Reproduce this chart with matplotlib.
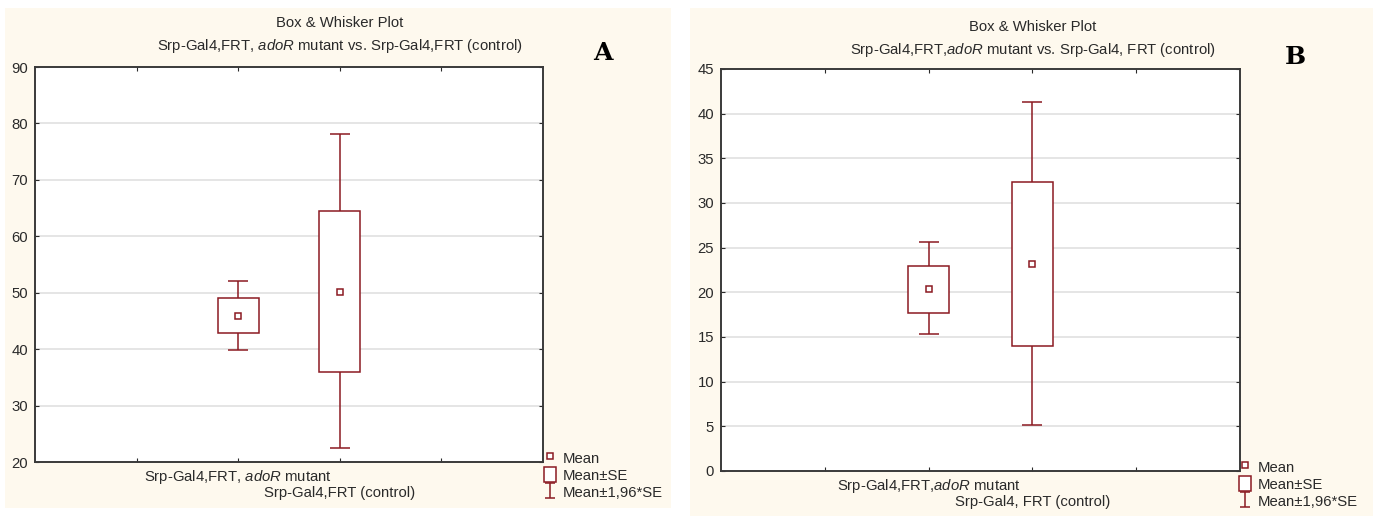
import matplotlib
matplotlib.use("Agg")
import numpy as np
import matplotlib.pyplot as plt
from matplotlib.patches import Rectangle, Patch
from matplotlib.lines import Line2D

plt.rcParams['font.family'] = ['Liberation Sans', 'DejaVu Sans']
plt.rcParams['mathtext.fontset'] = 'custom'
plt.rcParams['mathtext.rm'] = 'Liberation Sans'
plt.rcParams['mathtext.it'] = 'Liberation Sans:italic'

# Data
positions = [2, 3]
labels_A = [r'Srp-Gal4,FRT, $\mathit{adoR}$ mutant', 'Srp-Gal4,FRT (control)']
labels_B = [r'Srp-Gal4,FRT,$\mathit{adoR}$ mutant', 'Srp-Gal4, FRT (control)']

mean_A = [45.9, 50.2]
se_lo_A = [42.9, 36.0]
se_hi_A = [49.0, 64.4]
ci_lo_A = [39.8, 22.5]
ci_hi_A = [52.0, 78.1]

mean_B = [20.35, 23.2]
se_lo_B = [17.7, 14.0]
se_hi_B = [23.0, 32.4]
ci_lo_B = [15.3, 5.2]
ci_hi_B = [25.6, 41.3]

RED = '#8b1a22'
CREAM = '#fef9ee'
TXT = '#2a2a2a'
FS = 10.7
W, H = 1379, 516

fig = plt.figure(figsize=(W / 100, H / 100), dpi=100)
fig.patch.set_facecolor('white')


def px_rect(x0, y0, x1, y1):
    # pixel box (top-left origin) -> figure fraction
    return [x0 / W, 1 - y1 / H, (x1 - x0) / W, (y1 - y0) / H]


for r in (px_rect(5, 8, 671, 508), px_rect(690, 8, 1373, 516)):
    fig.patches.append(Rectangle((r[0], r[1]), r[2], r[3], transform=fig.transFigure,
                                 facecolor=CREAM, edgecolor='none', zorder=-10))


def box_panel(rect, mean, se_lo, se_hi, ci_lo, ci_hi, ylim, yticks, labels,
              title2, title_x, title_y, letter, letter_xy, leg_xy):
    ax = fig.add_axes(px_rect(*rect))
    ax.set_facecolor('white')
    ax.set_xlim(0, 5)
    ax.set_ylim(*ylim)
    ax.set_yticks(yticks)
    ax.set_xticks([1, 2, 3, 4])
    ax.set_xticklabels([])
    ax.tick_params(direction='in', length=3, width=0.8, top=True, right=True,
                   labelsize=FS, colors=TXT, pad=5)
    for sp in ax.spines.values():
        sp.set_color('#3a3a3a')
        sp.set_linewidth(1.4)
    for t in yticks[1:-1]:
        ax.axhline(t, color='#e3e3e3', lw=1.3, zorder=0)

    err_lo = [m - lo for m, lo in zip(mean, ci_lo)]
    err_hi = [hi - m for m, hi in zip(mean, ci_hi)]
    ax.errorbar(positions, mean, yerr=[err_lo, err_hi], fmt='none', ecolor=RED,
                elinewidth=1.1, capsize=7.5, capthick=1.1, zorder=2)
    ax.bar(positions, [h - l for h, l in zip(se_hi, se_lo)], bottom=se_lo, width=0.4,
           facecolor='white', edgecolor=RED, linewidth=1.1, zorder=3)
    ax.plot(positions, mean, ls='none', marker='s', ms=5, mfc='white', mec=RED,
            mew=1.1, zorder=4)
    # invisible errorbar used only as the legend symbol
    eb_leg = ax.errorbar([np.nan], [np.nan], yerr=[[1.0]], fmt='none', ecolor=RED,
                         elinewidth=1.1, capsize=3.5, capthick=1.1)

    ax.annotate(labels[0], xy=(positions[0], 0), xycoords=('data', 'axes fraction'),
                xytext=(0, -15 * 0.72), textcoords='offset points', ha='center', va='center',
                fontsize=FS, color=TXT)
    ax.annotate(labels[1], xy=(positions[1], 0), xycoords=('data', 'axes fraction'),
                xytext=(0, -31 * 0.72), textcoords='offset points', ha='center', va='center',
                fontsize=FS, color=TXT)

    fig.text(title_x / W, 1 - title_y / H, 'Box & Whisker Plot', ha='center', va='center',
             fontsize=FS, color=TXT)
    fig.text(title_x / W, 1 - (title_y + 23) / H, title2, ha='center', va='center',
             fontsize=FS, color=TXT)
    fig.text(letter_xy[0] / W, 1 - letter_xy[1] / H, letter, ha='center', va='center',
             fontsize=18, fontweight='bold', family='DejaVu Serif', color='black')

    handles = [Line2D([], [], ls='none', marker='s', ms=4, mfc='white', mec=RED, mew=1.1),
               Patch(facecolor='white', edgecolor=RED, linewidth=1.1),
               eb_leg]
    fig.legend(handles, ['Mean', 'Mean±SE', 'Mean±1,96*SE'], loc='upper left',
               bbox_to_anchor=(leg_xy[0] / W, 1 - leg_xy[1] / H), frameon=False,
               fontsize=FS, handlelength=0.8, handleheight=1.2, handletextpad=0.45,
               labelspacing=0.1, borderaxespad=0, borderpad=0, labelcolor=TXT)
    return ax


box_panel((35, 67, 543, 462), mean_A, se_lo_A, se_hi_A, ci_lo_A, ci_hi_A,
          (20, 90), list(range(20, 91, 10)), labels_A,
          r'Srp-Gal4,FRT, $\mathit{adoR}$ mutant vs. Srp-Gal4,FRT (control)',
          340, 23, 'A', (603, 53), (544, 450))
box_panel((721, 69, 1240, 471), mean_B, se_lo_B, se_hi_B, ci_lo_B, ci_hi_B,
          (0, 45), list(range(0, 46, 5)), labels_B,
          r'Srp-Gal4,FRT,$\mathit{adoR}$ mutant vs. Srp-Gal4, FRT (control)',
          1033, 27, 'B', (1295, 57), (1239, 459))

fig.savefig('out.png', dpi=100)
